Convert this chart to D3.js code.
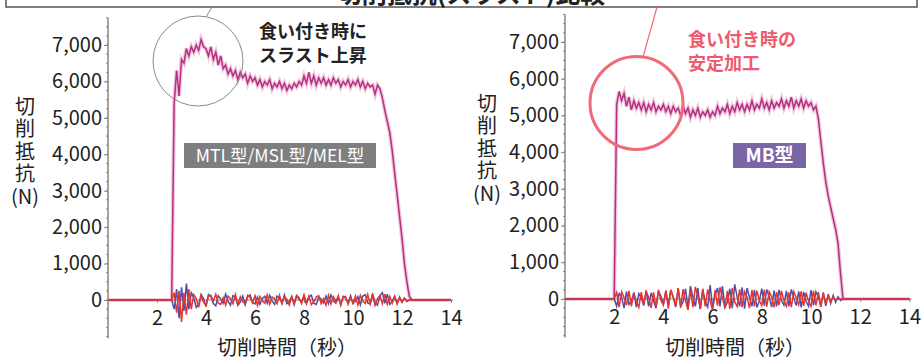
<!DOCTYPE html>
<html>
<head>
<meta charset="utf-8">
<script src="https://cdn.jsdelivr.net/npm/d3@7"></script>
<style>
  body { margin: 0; background: #fff; }
  svg { display: block; font-family: "Noto Sans CJK JP", "Noto Sans", sans-serif; }
</style>
</head>
<body>
<div id="chart"></div>
<script>
// データ（図から読み取り、0.1秒刻み）
const timeStep = 0.1;
const yTicks = [0, 1000, 2000, 3000, 4000, 5000, 6000, 7000];
const xTicks = [2, 4, 6, 8, 10, 12, 14];

// 左: MTL型/MSL型/MEL型
const leftStart = 2.6;
const leftThrust = [0, 5400, 6300, 5600, 6600, 6500, 6900, 6700, 6950, 6800, 7000, 6850, 7150, 6950, 6900, 6700,
  6950, 6600, 6800, 6450, 6700, 6350, 6450, 6200, 6350, 6150, 6300, 6050, 6250, 6100, 6200, 5950, 6150, 6000,
  6100, 5900, 6050, 5850, 6000, 5900, 6050, 5800, 5950, 5850, 6000, 5800, 5950, 5750, 5900, 5800, 5950, 5850,
  6000, 5900, 6150, 5950, 6250, 5950, 6150, 5900, 6100, 5950, 6100, 5900, 6050, 5900, 6100, 5950, 6050, 5850,
  6000, 5900, 6050, 5850, 6000, 5900, 6050, 5850, 6000, 5800, 5950, 5850, 5900, 5650, 5900, 5800, 5550, 5200,
  4900, 4600, 4100, 3500, 2900, 2300, 1700, 1000, 500, 100, 0];
const leftBlue = [0, -250, 300, -500, 350, -300, 450, -250, 200, 60, -200, -120, 150, 40, -180, 150, 90, -100,
  -160, 120, 30, -90, 160, -40, -140, 120, 80, -150, -60, 110, -130, 90, 140, -70, -110, 80, -120, 40, 100, -90,
  130, -30, -120, 110, 50, -80, 140, -100, -40, 90, -130, 120, 20, -70, 100, -110, 80, 130, -90, -120, 90, 30,
  -80, 110, -100, 140, -20, -90, 70, -120, 100, 50, -80, 120, -100, -30, 90, -130, 110, 150, -80, -110, 180, -60,
  -140, 120, 200, -90, 160, -120, -40, 110, -90, 80, -60, 50, -40, 0];
const leftRed = [0, 200, -350, 250, -600, 200, -400, 300, -250, 150, 40, -200, 120, -60, -150, 100, 130, -30, 160,
  -90, -120, 60, -140, 110, 30, -100, 150, -120, 90, -50, -110, 130, 70, -80, 120, -150, 100, -20, -90, 140, -120,
  80, 40, -100, 130, -110, 90, 20, -140, 100, -80, 120, 60, -100, 150, -90, 110, -130, -50, 80, 120, -100, 40,
  -140, 130, -110, 90, -40, 120, -150, 80, 100, -120, 60, -90, 110, -140, 130, -30, -100, 150, -110, 130, -150,
  40, 120, -100, 160, -120, 100, -90, 80, -110, 70, -60, 50, -20, 0];

// 右: MB型
const rightStart = 2.0;
const rightThrust = [0, 5300, 5650, 5400, 5600, 5250, 5500, 5150, 5400, 5200, 5350, 5150, 5350, 5100, 5300, 5150,
  5350, 5100, 5250, 5150, 5300, 5100, 5250, 5050, 5250, 5100, 5200, 5000, 5250, 5050, 5200, 4950, 5150, 5000,
  5200, 4950, 5100, 5000, 5150, 4950, 5100, 5000, 5250, 5050, 5200, 5100, 5300, 5050, 5250, 5100, 5350, 5150,
  5300, 5100, 5300, 5150, 5400, 5150, 5300, 5200, 5450, 5200, 5350, 5150, 5400, 5200, 5350, 5250, 5450, 5200,
  5400, 5250, 5500, 5200, 5400, 5250, 5450, 5200, 5400, 5250, 5350, 5150, 5250, 4900, 4300, 3700, 3200, 2800,
  2500, 2200, 1900, 1500, 700, 0];
const rightBlue = [0, -200, 150, 60, -250, 200, -150, -60, 180, -220, 150, 40, -180, 220, -200, 170, -50, -250,
  200, 80, -150, 230, -180, 250, 40, -220, 300, -200, -80, 280, -250, 350, 60, -200, 300, -280, 250, -60, -220, 380,
  -250, 100, 300, -200, 350, -230, -80, 280, -250, 400, 50, -200, 320, -260, 300, 40, -200, 250, -230, -50, 280,
  -180, 260, 60, -220, 230, -200, 250, -40, -170, 220, -200, 260, 30, -180, 210, -230, 190, -60, -200, 240, -170,
  200, 50, -210, 180, -190, 130, -120, 100, -90, 60, -40, 0];
const rightRed = [0, 180, -220, 200, 40, -170, 220, -200, 160, -60, -230, 190, -150, 210, 50, -240, 180, -200,
  250, -40, -170, 220, -260, 240, 60, -200, 300, -230, 270, -50, -300, 250, -220, 330, 80, -260, 280, -200, 260,
  -60, -300, 240, -180, 320, 40, -250, 220, -270, 300, -80, -200, 260, -220, 200, 50, -250, 240, -200, 230, -40,
  -180, 250, -210, 200, 60, -230, 190, -170, 220, -50, -200, 180, -220, 200, 30, -160, 210, -190, 170, -60, -200,
  220, -170, 190, -210, 160, -120, 90, -70, 50, -30, 0];

const W = 921, H = 360;
const svg = d3.select("#chart").append("svg").attr("width", W).attr("height", H);

// 上部の枠とタイトル（上半分は切れている）
svg.append("rect").attr("x", 6).attr("y", -40).attr("width", 911).attr("height", 47)
  .attr("fill", "none").attr("stroke", "#555").attr("stroke-width", 1.5);
svg.append("text").attr("x", 471).attr("y", 3).attr("text-anchor", "middle")
  .style("font-size", "25px").style("font-weight", "bold").attr("fill", "#222")
  .text("切削抵抗(スラスト)比較");

// 時系列 [t, v] に変換
function toSeries(start, values) {
  const pts = [[0, 0]];
  values.forEach((v, i) => pts.push([start + i * timeStep, v]));
  pts.push([14, 0]);
  return pts;
}

function drawPanel(cfg) {
  const g = svg.append("g");
  const x = d3.scaleLinear().domain([0, 14]).range([cfg.x0, cfg.x0 + 14 * cfg.pxPerSec]);
  const y = d3.scaleLinear().domain([0, 7000]).range([cfg.y0, cfg.y7000]);
  const axisColor = "#8c837b";

  // y軸の線
  g.append("line").attr("x1", cfg.x0).attr("x2", cfg.x0)
    .attr("y1", y(-1050)).attr("y2", y(7750))
    .attr("stroke", axisColor).attr("stroke-width", 1.5);

  // 補助目盛り
  g.selectAll(".minor").data(d3.range(-1000, 7751, 250)).enter().append("line")
    .attr("x1", cfg.x0 - 2).attr("x2", cfg.x0)
    .attr("y1", d => y(d)).attr("y2", d => y(d))
    .attr("stroke", axisColor).attr("stroke-width", 1);

  const yAxis = g.append("g").attr("transform", `translate(${cfg.x0},0)`)
    .call(d3.axisLeft(y).tickValues(yTicks).tickFormat(d3.format(",")).tickSize(4).tickPadding(2));
  yAxis.select(".domain").remove();
  yAxis.selectAll("line").attr("stroke", axisColor);
  yAxis.selectAll("text").style("font-size", "20px").attr("fill", "#222")
    .attr("font-family", "Noto Sans CJK JP");

  // x軸
  g.append("line").attr("x1", cfg.x0).attr("x2", x(14.1))
    .attr("y1", cfg.y0).attr("y2", cfg.y0)
    .attr("stroke", axisColor).attr("stroke-width", 1.2);
  const xAxis = g.append("g").attr("transform", `translate(0,${cfg.y0})`)
    .call(d3.axisBottom(x).tickValues(xTicks).tickSize(3).tickPadding(8));
  xAxis.select(".domain").remove();
  xAxis.selectAll("line").attr("stroke", axisColor);
  xAxis.selectAll("text").style("font-size", "20px").attr("fill", "#222")
    .attr("font-family", "Noto Sans CJK JP");

  const line = d3.line().x(d => x(d[0])).y(d => y(d[1]));

  // 主分力（スラスト）: 薄いにじみ + 濃い線
  const thrust = toSeries(cfg.start, cfg.thrust);
  g.append("path").datum(thrust).attr("d", line)
    .attr("fill", "none").attr("stroke", "#e6a3c9").attr("stroke-width", 4).attr("opacity", 0.6);
  g.append("path").datum(thrust).attr("d", line)
    .attr("fill", "none").attr("stroke", "#b5307f").attr("stroke-width", 1.5);

  // 他の分力（青・赤）
  g.append("path").datum(toSeries(cfg.start, cfg.blue)).attr("d", line)
    .attr("fill", "none").attr("stroke", "#4b4fae").attr("stroke-width", 1.5);
  g.append("path").datum(toSeries(cfg.start, cfg.red)).attr("d", line)
    .attr("fill", "none").attr("stroke", "#e8352c").attr("stroke-width", 1.5);

  // y軸タイトル（縦書き）
  g.append("text").attr("x", cfg.yTitleX).attr("y", cfg.yTitleY - 11)
    .style("writing-mode", "vertical-rl").style("letter-spacing", "2.5px")
    .style("font-size", "20px").attr("fill", "#222")
    .text("切削抵抗");
  g.append("text").attr("x", cfg.yTitleX).attr("y", cfg.yTitleY + 90).attr("dy", "0.35em")
    .attr("text-anchor", "middle").style("font-size", "20px").attr("fill", "#222")
    .text("(N)");

  // x軸タイトル
  g.append("text").attr("x", cfg.xTitleX).attr("y", 348).attr("dy", "0.35em")
    .attr("text-anchor", "middle").style("font-size", "20px").attr("fill", "#222")
    .text("切削時間（秒）");

  // 型名ラベル
  g.append("rect").attr("x", cfg.tag.x).attr("y", 143).attr("width", cfg.tag.w).attr("height", 25)
    .attr("fill", cfg.tag.fill);
  g.append("text").attr("x", cfg.tag.x + cfg.tag.w / 2).attr("y", 155.5).attr("dy", "0.35em")
    .attr("text-anchor", "middle").attr("fill", "#fff")
    .style("font-size", cfg.tag.size).style("font-weight", cfg.tag.weight)
    .text(cfg.tag.text);

  // 注記
  g.selectAll(".note").data(cfg.note.lines).enter().append("text")
    .attr("x", cfg.note.x).attr("y", (d, i) => cfg.note.y + i * 24).attr("dy", "0.35em")
    .style("font-size", "18px").style("font-weight", "bold").attr("fill", cfg.note.color)
    .text(d => d);

  // 丸囲みと引き出し線
  g.append("circle").attr("cx", cfg.circle.cx).attr("cy", cfg.circle.cy).attr("r", cfg.circle.r)
    .attr("fill", "none").attr("stroke", cfg.circle.color).attr("stroke-width", cfg.circle.width);
  g.append("line").attr("x1", cfg.leader[0]).attr("y1", cfg.leader[1])
    .attr("x2", cfg.leader[2]).attr("y2", cfg.leader[3])
    .attr("stroke", cfg.circle.color).attr("stroke-width", cfg.circle.width > 2 ? 1.2 : 1);
}

drawPanel({
  x0: 108, pxPerSec: 24.5, y0: 300, y7000: 45,
  start: leftStart, thrust: leftThrust, blue: leftBlue, red: leftRed,
  yTitleX: 25, yTitleY: 107, xTitleX: 287,
  tag: { x: 184, w: 192, fill: "#7d7e80", text: "MTL型/MSL型/MEL型", size: "17.5px", weight: "normal" },
  note: { x: 259, y: 32, lines: ["食い付き時に", "スラスト上昇"], color: "#222" },
  circle: { cx: 198, cy: 61, r: 45, color: "#8a8a8a", width: 1 },
  leader: [212, 7, 206, 17]
});

drawPanel({
  x0: 565, pxPerSec: 24.6, y0: 299, y7000: 42,
  start: rightStart, thrust: rightThrust, blue: rightBlue, red: rightRed,
  yTitleX: 487, yTitleY: 104, xTitleX: 735,
  tag: { x: 733, w: 73, fill: "#7a66a6", text: "MB型", size: "19px", weight: "bold" },
  note: { x: 688, y: 40, lines: ["食い付き時の", "安定加工"], color: "#ef5a6e" },
  circle: { cx: 636.5, cy: 103, r: 46.5, color: "#f06a78", width: 3 },
  leader: [657, 7, 643, 57]
});
</script>
</body>
</html>
